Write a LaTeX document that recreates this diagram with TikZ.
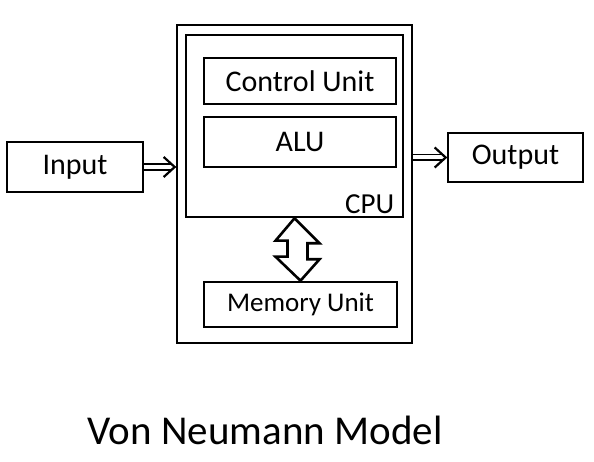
\documentclass[tikz,border=0pt]{standalone}
\usepackage{fontspec}
\setmainfont{Carlito}
\usetikzlibrary{calc}
\begin{document}
\begin{tikzpicture}[x=1pt, y=-1pt,
    unit/.style={draw, line width=2.6pt, minimum width=192pt, minimum height=46pt, inner sep=0pt,
      font=\fontsize{30}{36}\selectfont},
    flow/.style={double, double distance=4pt, line width=1.8pt},
    chevron/.style={line width=2.2pt, line join=miter},
    fat/.style={line width=2.6pt, line join=miter}]
  \useasboundingbox (0,0) rectangle (594,462);
  \node[draw, line width=2.6pt, minimum width=235pt, minimum height=318pt] (outer) at (294.5,184) {};
  \node[draw, line width=2.6pt, minimum width=217pt, minimum height=182pt] (cpu) at (294.5,126) {};
  \node[unit] (cu) at (300,81) {Control Unit};
  \node[unit, minimum height=50pt] (alu) at (300,142) {ALU};
  \node[unit, minimum width=193pt, minimum height=45pt, font=\fontsize{27}{32}\selectfont] (mem) at (300.5,304.5) {Memory Unit};
  \node[unit, minimum width=136pt, minimum height=50pt] (in) at (75,167) {Input};
  \node[unit, minimum width=135pt, minimum height=49pt] (out) at (515.5,157.5) {Output};
  \node[anchor=base east, inner sep=0pt, font=\fontsize{29}{34}\selectfont] (cpulabel) at ($(cpu.south east)+(-10,-5)$) {CPU};
  \node[font=\fontsize{41}{48}\selectfont] (title) at (265,430) {Von Neumann Model};
  \coordinate (intip) at ($(outer.west |- in.east)+(-1,0)$);
  \coordinate (outtip) at ($(out.west)+(-1,0)$);
  \draw[flow] (in.east) -- ($(intip)+(-3,0)$);
  \draw[chevron] ($(intip)+(-11,-10)$) -- (intip) -- ++(-11,10);
  \draw[flow] (outer.east |- out.west) -- ($(outtip)+(-3,0)$);
  \draw[chevron] ($(outtip)+(-11,-10)$) -- (outtip) -- ++(-11,10);
  \draw[fat] (cpu.south) -- ++(25,25) -- ++(-12,0) -- ++(0,16) -- ++(12,0) -- (mem.north)
    -- ++(-25,-24) -- ++(12,0) -- ++(0,-16) -- ++(-12,0) -- cycle;
\end{tikzpicture}
\end{document}
